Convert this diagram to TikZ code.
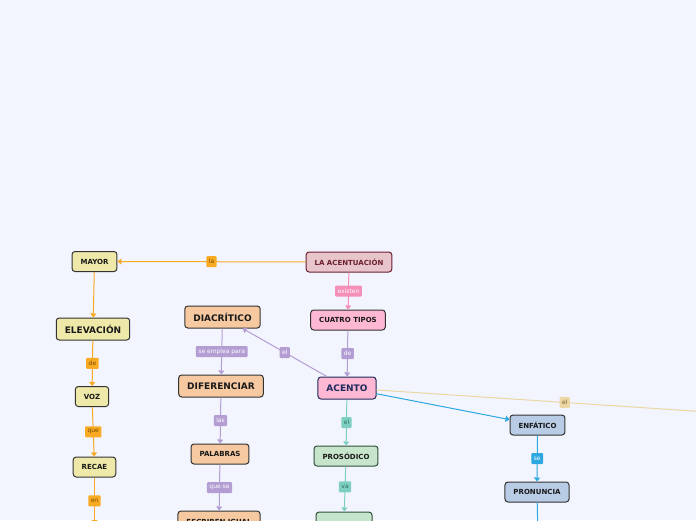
\documentclass[tikz,border=0pt]{standalone}
\usepackage{fontspec}
\setmainfont{DejaVu Sans}
\usetikzlibrary{arrows.meta}
\definecolor{bg}{HTML}{F3F5FE}
\definecolor{edge}{HTML}{333333}
\definecolor{orng}{HTML}{F8AA22}
\definecolor{orngtext}{HTML}{7A4B00}
\definecolor{yelfill}{HTML}{EEE8A9}
\definecolor{acfill}{HTML}{E8C5CB}
\definecolor{acdraw}{HTML}{6B1F30}
\definecolor{pinkline}{HTML}{F48FB8}
\definecolor{pinkfill}{HTML}{FFB8D4}
\definecolor{navy}{HTML}{1F2A5C}
\definecolor{purp}{HTML}{B39DD3}
\definecolor{peach}{HTML}{F6C9A0}
\definecolor{teal}{HTML}{7DCFC2}
\definecolor{tealtext}{HTML}{2E6B63}
\definecolor{greenfill}{HTML}{C7E5CB}
\definecolor{greendraw}{HTML}{2F4F3A}
\definecolor{blueline}{HTML}{2CA7E0}
\definecolor{bluefill}{HTML}{B9CCE6}
\definecolor{tan}{HTML}{EBD6A4}
\definecolor{tantext}{HTML}{7A5A30}
\tikzset{
  nb/.style={rounded corners=3pt, line width=1pt, draw=edge, text=black!90,
    font=\bfseries\fontsize{7}{8}\selectfont, inner xsep=8.5pt, inner ysep=0pt, minimum height=20pt},
  bignb/.style={nb, font=\bfseries\fontsize{9}{10}\selectfont, minimum height=22pt},
  lab/.style={rounded corners=1pt, font=\fontsize{6}{7}\selectfont, inner xsep=2.5pt, inner ysep=0pt, minimum height=11pt},
  conn/.style={line width=1pt, -{Triangle[length=4pt,width=6pt]}},
  olab/.style={lab, fill=orng, text=orngtext},
  plab/.style={lab, fill=purp, text=white},
}
\begin{document}
\begin{tikzpicture}[x=1pt,y=-1pt]
\fill[bg] (0,0) rectangle (696,520);
\useasboundingbox (0,0) rectangle (696,520);
\clip (0,0) rectangle (696,520);

% nodes
\node[nb, fill=yelfill] (mayor) at (94.5,261.5) {MAYOR};
\node[nb, fill=acfill, draw=acdraw, text=acdraw] (lacent) at (349,262) {LA ACENTUACIÓN};
\node[bignb, fill=yelfill] (elev) at (93,329) {ELEVACIÓN};
\node[nb, fill=yelfill] (voz) at (92,396.5) {VOZ};
\node[nb, fill=yelfill] (recae) at (94.5,467) {RECAE};
\coordinate (recaeoff) at (94.5,524);

\node[bignb, fill=peach] (diacr) at (222.5,317) {DIACRÍTICO};
\node[bignb, fill=peach] (dif) at (221,386) {DIFERENCIAR};
\node[nb, fill=peach] (pal) at (220,454) {PALABRAS};
\node[nb, fill=peach, minimum height=22pt] (escr) at (219,522) {ESCRIBEN IGUAL};

\node[nb, fill=pinkfill] (cuatro) at (348,320) {CUATRO TIPOS};
\node[bignb, fill=pinkfill, draw=navy, text=navy] (acento) at (347,388) {ACENTO};
\node[nb, fill=greenfill, draw=greendraw] (pros) at (346,456) {PROSÓDICO};
\node[nb, fill=greenfill, draw=greendraw, minimum width=56pt] (green) at (344,522) {};

\node[nb, fill=bluefill] (enf) at (537.5,425) {ENFÁTICO};
\node[nb, fill=bluefill] (pron) at (537,492) {PRONUNCIA};
\coordinate (pronoff) at (538,540);
\coordinate (tanoff) at (753,415);

% connectors
\draw[conn, orng] (lacent) -- node[olab] {la} (mayor);
\draw[conn, orng] (mayor) -- (elev);
\draw[conn, orng] (elev) -- node[olab] {de} (voz);
\draw[conn, orng] (voz) -- node[olab] {que} (recae);
\draw[conn, orng] (recae) -- node[olab] {en} (recaeoff);

\draw[conn, pinkline] (lacent) -- node[lab, fill=pinkline, text=white] {existen} (cuatro);
\draw[conn, purp] (cuatro) -- node[plab] {de} (acento);
\draw[conn, purp] (acento) -- node[plab] {el} (diacr);
\draw[conn, purp] (diacr) -- node[plab] {se emplea para} (dif);
\draw[conn, purp] (dif) -- node[plab] {las} (pal);
\draw[conn, purp] (pal) -- node[plab] {que se} (escr);

\draw[conn, teal] (acento) -- node[lab, fill=teal, text=tealtext] {el} (pros);
\draw[conn, teal] (pros) -- node[lab, fill=teal, text=tealtext, pos=0.45] {va} (green);

\draw[conn, blueline] (acento) -- (enf);
\draw[conn, blueline] (enf) -- node[lab, fill=blueline, text=white] {se} (pron);
\draw[line width=1pt, blueline] (pron) -- (pronoff);

\draw[line width=1pt, tan] (acento) -- node[lab, fill=tan, text=tantext] {el} (tanoff);
\end{tikzpicture}
\end{document}
